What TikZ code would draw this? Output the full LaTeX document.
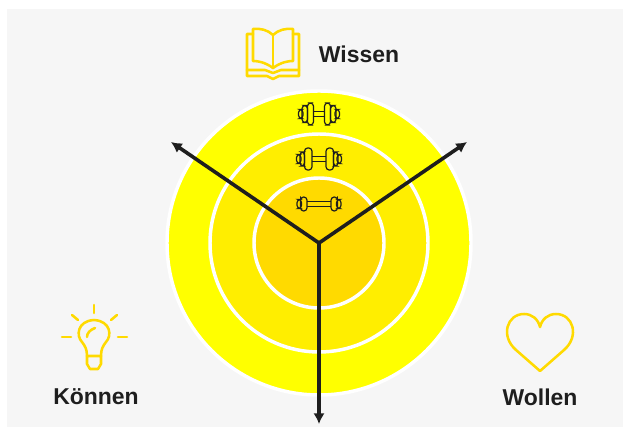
\documentclass[tikz,border=0pt]{standalone}
\usepackage{fontspec}
\setmainfont{Liberation Sans}
\usetikzlibrary{arrows.meta}
\definecolor{panel}{HTML}{F6F6F6}
\definecolor{ringa}{HTML}{FFFF00}
\definecolor{ringb}{HTML}{FFEE00}
\definecolor{ringc}{HTML}{FFDA00}
\definecolor{ink}{HTML}{1E1E1E}
\tikzset{ring/.style = {draw=white, line width=2.6pt},
         axis/.style = {draw=ink, line width=2.7pt, -{Latex[length=8pt,width=8.5pt]}},
         icon/.style = {draw=ringc, line width=1.9pt, line join=round, line cap=round},
         bell/.style = {draw=ink, line width=0.9pt, rounded corners=2.4pt},
         lbl/.style = {text=ink, font=\bfseries\fontsize{17.2}{20}\selectfont, inner sep=0pt}}
\begin{document}
\begin{tikzpicture}[x=0.75pt, y=-0.75pt]
    \useasboundingbox (0, 0) rectangle (623, 427);
    \path [fill=panel] (7, 9) rectangle (623, 427);

    \coordinate (centre) at (319, 243);
    \coordinate (endleft) at (171, 142);
    \coordinate (endright) at (467, 142);
    \coordinate (enddown) at (319, 424);

    \path [ring, fill=ringa] (centre) circle [radius=152];
    \path [ring, fill=ringb] (centre) circle [radius=109];
    \path [ring, fill=ringc] (centre) circle [radius=65];

    % dumbbells
    \foreach \y/\g/\p/\h/\q/\k in {204/12/18.5/14/18.5/9, 159/7/14.5/22/19/14, 114/5.5/11.5/22/17/17} {
      \begin{scope}[shift={(319, \y)}]
        \draw [draw=ink, line width=0.9pt] (-\g, -2.2) -- (\g, -2.2) (-\g, 2.2) -- (\g, 2.2);
        \draw [bell] (-\q-3.5, -4.5) rectangle (-\q+1, 4.5);
        \draw [bell] (\q-1, -4.5) rectangle (\q+3.5, 4.5);
        \draw [bell] (-\q, -\k/2) rectangle (-\p, \k/2);
        \draw [bell] (\p, -\k/2) rectangle (\q, \k/2);
        \draw [bell] (-\p, -\h/2) rectangle (-\g, \h/2);
        \draw [bell] (\g, -\h/2) rectangle (\p, \h/2);
      \end{scope}
    }

    \draw [axis] (centre) -- (endleft);
    \draw [axis] (centre) -- (endright);
    \draw [axis] (centre) -- (enddown);

    % book
    \draw [icon] (273, 68) .. controls (265, 62) and (257, 61) .. (253, 61) -- (253, 29)
      .. controls (260, 28) and (268, 30) .. (273, 35)
      .. controls (278, 30) and (286, 28) .. (293, 29) -- (293, 61)
      .. controls (289, 61) and (281, 62) .. (273, 68) -- cycle;
    \draw [icon] (273, 35) -- (273, 68);
    \draw [icon] (253, 34) -- (247, 34) -- (247, 76) -- (267, 76) -- (273, 79) -- (279, 76) -- (299, 76) -- (299, 34) -- (293, 34);
    \draw [icon] (247, 70) -- (265, 70) -- (273, 73) -- (281, 70) -- (299, 70);

    % bulb
    \draw [icon] (87, 356) .. controls (87, 349) and (85, 346) .. (82, 342)
      .. controls (76, 336) and (77, 321) .. (94, 320)
      .. controls (111, 321) and (112, 336) .. (106, 342)
      .. controls (103, 346) and (101, 349) .. (101, 356);
    \draw [icon] (87, 356) -- (101, 356) -- (101, 364) -- (98, 369) -- (90, 369) -- (87, 364) -- cycle;
    \draw [icon] (87, 337) .. controls (87, 333) and (90, 330) .. (95, 328);
    \draw [icon] (94, 305) -- (94, 313);
    \draw [icon] (72, 315) -- (78, 320);
    \draw [icon] (117, 315) -- (111, 320);
    \draw [icon] (62, 337) -- (71, 337);
    \draw [icon] (118, 337) -- (127, 337);

    % heart
    \draw [icon] (540, 371) -- (516, 350) .. controls (500, 336) and (507, 314) .. (524, 314)
      .. controls (532, 314) and (538, 319) .. (540, 327)
      .. controls (542, 319) and (548, 314) .. (556, 314)
      .. controls (573, 314) and (580, 336) .. (564, 350) -- cycle;

    \node [lbl] (wissen) at (359, 54) {Wissen};
    \node [lbl] (koennen) at (96, 397) {Können};
    \node [lbl] (wollen) at (540, 397) {Wollen};
\end{tikzpicture}
\end{document}
